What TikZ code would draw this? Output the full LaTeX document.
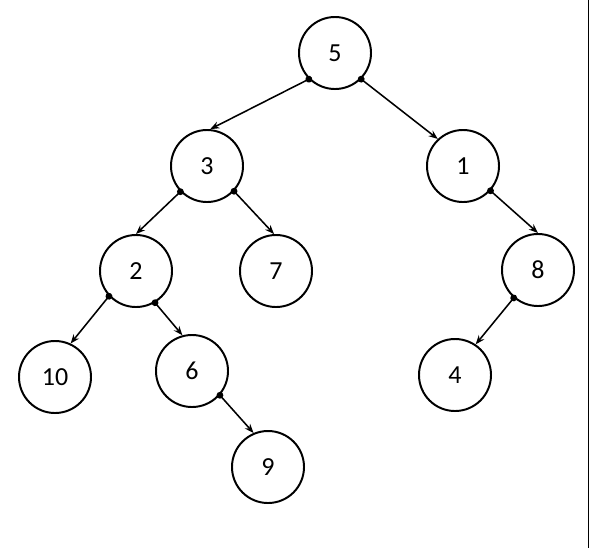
\documentclass[tikz,border=0pt]{standalone}
\usepackage{fontspec}
\setmainfont{Carlito}
\usetikzlibrary{arrows.meta}

\begin{document}
\begin{tikzpicture}[x=0.025cm,y=-0.025cm,
  vertex/.style={draw,circle,line width=1.4pt,minimum size=1.8cm,inner sep=0pt,font=\fontsize{18.5}{22}\selectfont},
  edge/.style={line width=1.1pt,shorten <=-2.4pt,{Circle[length=4.8pt]}-{Stealth[length=6.5pt,width=5pt]}}]
\useasboundingbox (0,0) rectangle (590,548);

\node[vertex] at (335,53) (n5) {5};
\node[vertex] at (207,166) (n3) {3};
\node[vertex] at (463,166) (n1) {1};
\node[vertex] at (136,271) (n2) {2};
\node[vertex] at (276,271) (n7) {7};
\node[vertex] at (538,270) (n8) {8};
\node[vertex] at (55,377) (n10) {10};
\node[vertex] at (192,371) (n6) {6};
\node[vertex] at (455,375) (n4) {4};
\node[vertex] at (268,467) (n9) {9};

\draw[edge] (n5.-135) -- (n3.85);
\draw[edge] (n5.-45) -- (n1.133);

\draw[edge] (n3.-136) -- (n2.90);
\draw[edge] (n3.-43) -- (n7.93);
\draw[edge] (n1.-42) -- (n8.90);

\draw[edge] (n2.-137) -- (n10.65);
\draw[edge] (n2.-59) -- (n6.105);
\draw[edge] (n8.-131) -- (n4.56);

\draw[edge] (n6.-41) -- (n9.113);

% right border
\draw[line width=1pt] (588.5,0) -- (588.5,548);
\end{tikzpicture}
\end{document}
